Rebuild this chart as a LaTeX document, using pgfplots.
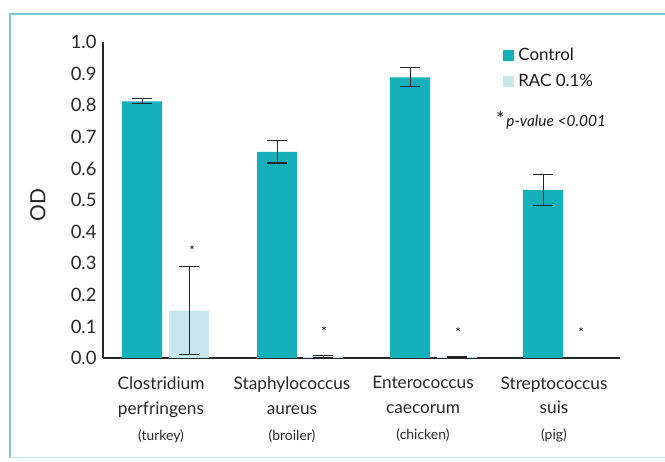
\documentclass[border=0pt]{standalone}
\usepackage{pgfplots}
\pgfplotsset{compat=1.18}
\usepackage{fontspec}
\setmainfont{Lato}
\definecolor{ctrl}{RGB}{22,176,186}
\definecolor{rac}{RGB}{198,231,235}
\definecolor{frame}{RGB}{120,205,210}
\begin{document}
\begin{tikzpicture}
\useasboundingbox (0,0) rectangle (665bp,462bp);
\draw[frame, line width=2bp] (10bp,4bp) -- (10bp,448bp) -- (665bp,448bp);
\draw[frame!40, line width=1bp] (10bp,4bp) -- (665bp,4bp);
\begin{axis}[
  at={(103bp,104bp)}, anchor=south west,
  scale only axis, width=517bp, height=316bp,
  xmin=103, xmax=620, ymin=0, ymax=1.0,
  axis x line*=bottom, axis y line*=left,
  axis line style={-, line width=1.3bp, black!85},
  ytick={0,0.1,...,1.0},
  yticklabel style={/pgf/number format/fixed, /pgf/number format/fixed zerofill, /pgf/number format/precision=1, /pgf/number format/assume math mode=true, font=\fontsize{18.5}{20}\selectfont, black!85, xshift=-3bp},
  major tick length=0pt,
  xtick={161,292,423,554},
  xticklabels={{Clostridium\\perfringens\\[1bp]{\fontsize{14}{16}\selectfont (turkey)}},
               {Staphylococcus\\aureus\\[1bp]{\fontsize{14}{16}\selectfont (broiler)}},
               {Enterococcus\\caecorum\\[1bp]{\fontsize{14}{16}\selectfont (chicken)}},
               {Streptococcus\\suis\\[1bp]{\fontsize{14}{16}\selectfont (pig)}}},
  xticklabel style={align=center, font=\fontsize{17.3}{25}\selectfont, black!85, yshift=-15bp},
  ylabel={OD},
  ylabel style={at={(axis description cs:-0.126,0.484)}, anchor=center, font=\fontsize{21}{24}\selectfont, black!85},
  ybar, bar width=40,
  legend style={at={(axis description cs:0.774,0.984)}, anchor=north west, draw=none, fill=none,
    font=\fontsize{17}{20}\selectfont, black!90, row sep=10bp, inner sep=0pt,
    nodes={inner sep=1bp, text height=12bp, text depth=2bp},
    /tikz/every odd column/.append style={column sep=3bp}},
  legend image code/.code={\fill[#1,draw=none] (0bp,-5.5bp) rectangle (11bp,5.5bp);},
  legend cell align=left,
  error bars/error bar style={black!85, line width=1bp},
  error bars/error mark options={rotate=90, mark size=10bp, line width=1.1bp, black!85},
]
\addplot[fill=ctrl, draw=none, bar shift=0,
  error bars/.cd, y dir=both, y explicit]
  coordinates {(142,0.812) +- (0,0.008) (277,0.652) +- (0,0.035) (410,0.888) +- (0,0.03) (543,0.532) +- (0,0.048)};
\addlegendentry{Control}
\addplot[fill=rac, draw=none, bar shift=0,
  error bars/.cd, y dir=both, y explicit]
  coordinates {(189,0.150) +- (0,0.140) (323,0.004) +- (0,0.003) (457,0.003) +- (0,0.002) (583,0.0) +- (0,0.0)};
\addlegendentry{RAC 0.1\%}
\node[font=\fontsize{13}{14}\selectfont, black] at (axis cs:192,0.340) {*};
\node[font=\fontsize{13}{14}\selectfont, black] at (axis cs:324,0.085) {*};
\node[font=\fontsize{13}{14}\selectfont, black] at (axis cs:458,0.080) {*};
\node[font=\fontsize{13}{14}\selectfont, black] at (axis cs:581,0.080) {*};
\node[anchor=west, black!90, inner sep=0pt] at (axis cs:496,0.751) {{\fontsize{20}{20}\selectfont *}\,{\fontsize{15.5}{16}\selectfont\itshape p-value <0.001}};
\end{axis}
\end{tikzpicture}
\end{document}
